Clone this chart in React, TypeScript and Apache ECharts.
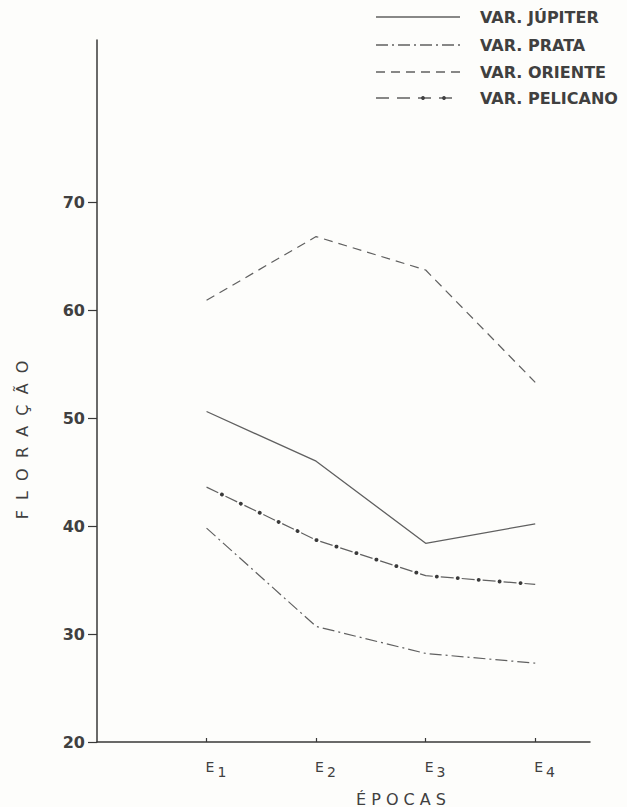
import React, { useEffect, useRef } from "react";
import * as echarts from "echarts";

const epochs = [1, 2, 3, 4];
const epochLabels = ["1", "2", "3", "4"];
const yTicks = [20, 30, 40, 50, 60, 70];
const jupiter = [50.6, 46.0, 38.4, 40.2];
const prata = [39.8, 30.7, 28.2, 27.3];
const oriente = [60.9, 66.8, 63.7, 53.3];
const pelicano = [43.6, 38.7, 35.4, 34.6];
const legendNames = ["VAR. JÚPITER", "VAR. PRATA", "VAR. ORIENTE", "VAR. PELICANO"];
const yAxisTitle = "F  L  O  R  A  Ç  Ã  O";
const xAxisTitle = "É P O C A S";

const INK = "#404040";
const LINE = "#606060";

const pts = (vals: number[]) => epochs.map((e, i) => [e, vals[i]]);

export default function App() {
  const ref = useRef<HTMLDivElement>(null);
  useEffect(() => {
    document.body.style.margin = "0";
    const chart = echarts.init(ref.current!, null, { renderer: "svg" });
    const font = "'DejaVu Sans', sans-serif";
    const legendY = [17, 45, 72, 98];
    const dashes: any[] = [null, [12, 4, 2, 4], [9, 6], [13, 8]];
    const graphics: any[] = [];
    legendNames.forEach((n, i) => {
      graphics.push({
        type: "line",
        shape: { x1: 376, y1: legendY[i], x2: 460, y2: legendY[i] },
        style: { stroke: LINE, lineWidth: 1.3, lineDash: dashes[i] || undefined },
      });
      graphics.push({
        type: "text",
        x: 480,
        y: legendY[i],
        style: { text: n, fill: INK, font: `bold 16px ${font}`, verticalAlign: "middle" },
      });
    });
    graphics.push({
      type: "circle",
      shape: { cx: 423, cy: legendY[3], r: 1.9 },
      style: { fill: "#404040" },
    });
    graphics.push({
      type: "circle",
      shape: { cx: 444, cy: legendY[3], r: 1.9 },
      style: { fill: "#404040" },
    });
    graphics.push({
      type: "text",
      x: 22,
      y: 440,
      rotation: Math.PI / 2,
      style: {
        text: yAxisTitle,
        fill: INK,
        font: `16px ${font}`,
        align: "center",
        verticalAlign: "middle",
      },
    });
    graphics.push({
      type: "text",
      x: 401,
      y: 799,
      style: {
        text: xAxisTitle,
        fill: INK,
        font: `16px ${font}`,
        align: "center",
        verticalAlign: "middle",
      },
    });

    chart.setOption({
      animation: false,
      backgroundColor: "#fdfdfb",
      grid: { left: 97, right: 37, top: 40, bottom: 65 },
      xAxis: {
        type: "value",
        min: 0,
        max: 4.5,
        splitLine: { show: false },
        axisLine: { lineStyle: { color: "#383838", width: 1.5 } },
        axisTick: { show: true, inside: true, length: 4, customValues: epochs, lineStyle: { color: "#383838", width: 1.2 } },
        axisLabel: {
          customValues: epochs,
          margin: 13,
          align: "left",
          padding: [0, 0, 0, -1],
          formatter: (v: number) => `{e|E}{s|${epochLabels[epochs.indexOf(v)]}}`,
          rich: {
            e: { fontSize: 14, color: INK, fontFamily: font },
            s: { fontSize: 14, color: INK, fontFamily: font, padding: [10, 0, 0, 3] },
          },
        },
      },
      yAxis: {
        type: "value",
        min: 20,
        max: 85,
        splitLine: { show: false },
        axisLine: { show: true, lineStyle: { color: "#383838", width: 1.5 } },
        axisTick: { show: true, length: 9, customValues: yTicks, lineStyle: { color: "#383838", width: 1.2 } },
        axisLabel: { customValues: yTicks, margin: 12, fontSize: 16, color: INK, fontFamily: font, fontWeight: "bold" },
      },
      graphic: graphics,
      series: [
        { type: "line", data: pts(jupiter), symbol: "none", lineStyle: { color: LINE, width: 1.3 } },
        { type: "line", data: pts(prata), symbol: "none", lineStyle: { color: LINE, width: 1.2, type: [12, 4, 2, 4] } },
        { type: "line", data: pts(oriente), symbol: "none", lineStyle: { color: LINE, width: 1.2, type: [9, 6] } },
        { type: "line", data: pts(pelicano), symbol: "none", lineStyle: { color: LINE, width: 1.2, type: [13, 8] } },
        {
          type: "line",
          data: pts(pelicano),
          symbol: "none",
          lineStyle: { color: "#3a3a3a", width: 3.8, cap: "round", type: [0.1, 20.9], dashOffset: 3.5 },
        },
      ],
    });
    return () => chart.dispose();
  }, []);
  return <div ref={ref} style={{ width: 627, height: 807 }} />;
}
